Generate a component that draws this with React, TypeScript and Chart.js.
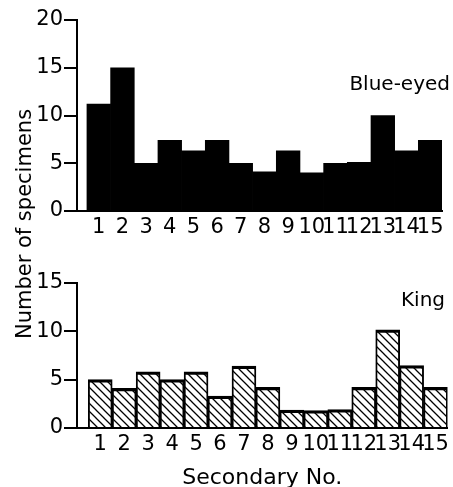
import React, { useEffect, useRef } from 'react';
import { Chart, registerables } from 'chart.js';

Chart.register(...registerables);

// ---- data ----
const secondaryNos = [1, 2, 3, 4, 5, 6, 7, 8, 9, 10, 11, 12, 13, 14, 15];
const tickLabels = ['1', '2', '3', '4', '5', '6', '7', '8', '9', '10', '11', '12', '13', '14', '15'];
const blueEyed = [11.2, 15, 5, 7.4, 6.3, 7.4, 5, 4.1, 6.3, 4, 5, 5.1, 10, 6.3, 7.4];
const king = [5, 4.1, 5.8, 5, 5.8, 3.3, 6.4, 4.2, 1.85, 1.8, 1.9, 4.2, 10.15, 6.45, 4.2];
const topMax = 20;
const bottomMax = 15;
const tickStep = 5;

const FONT = "'DejaVu Sans', sans-serif";
const W = 453;
const TOP_H = 242;
const BOTTOM_H = 245;

function makeHatch(): CanvasPattern | string {
  const s = 8;
  const c = document.createElement('canvas');
  c.width = s;
  c.height = s;
  const g = c.getContext('2d');
  if (!g) return '#fff';
  g.strokeStyle = '#000';
  g.lineWidth = 1.3;
  g.beginPath();
  for (const o of [-s, 0, s]) {
    g.moveTo(o - 1, -1);
    g.lineTo(o + s + 1, s + 1);
  }
  g.stroke();
  return g.createPattern(c, 'repeat') || '#fff';
}

const panelLabel = {
  id: 'panelLabel',
  afterDraw(chart: any, _args: any, opts: any) {
    if (!opts || !opts.text) return;
    const ctx = chart.ctx;
    ctx.save();
    ctx.fillStyle = '#000';
    ctx.font = `20px ${FONT}`;
    ctx.textAlign = 'right';
    ctx.textBaseline = 'alphabetic';
    ctx.fillText(opts.text, opts.x, opts.y);
    ctx.restore();
  },
};

function buildConfig(opts: {
  values: number[];
  max: number;
  xmin: number;
  padTop: number;
  padRight: number;
  xHeight: number;
  fill: any;
  border: any;
  label: { text: string; x: number; y: number };
  xTitle?: string;
}): any {
  return {
    type: 'bar',
    data: {
      datasets: [
        {
          data: secondaryNos.map((x, i) => ({ x, y: opts.values[i] })),
          backgroundColor: opts.fill,
          borderColor: '#000',
          borderWidth: opts.border,
          barPercentage: 1,
          categoryPercentage: 1,
        },
      ],
    },
    options: {
      responsive: false,
      animation: false,
      devicePixelRatio: 1,
      layout: { padding: { top: opts.padTop, right: opts.padRight, bottom: 0, left: 0 } },
      plugins: {
        legend: { display: false },
        tooltip: { enabled: false },
        panelLabel: opts.label,
      },
      scales: {
        x: {
          type: 'linear',
          offset: false,
          min: opts.xmin,
          max: 15.5,
          afterBuildTicks: (s: any) => {
            s.ticks = secondaryNos.map((v) => ({ value: v }));
          },
          afterFit: (s: any) => {
            s.height = opts.xHeight;
          },
          ticks: {
            autoSkip: false,
            maxRotation: 0,
            minRotation: 0,
            padding: 4,
            color: '#000',
            font: { family: FONT, size: 21 },
            callback: (_v: any, i: number) => tickLabels[i],
          },
          grid: { display: false, drawTicks: false, offset: false },
          border: { display: true, color: '#000', width: 2 },
          title: opts.xTitle
            ? {
                display: true,
                text: opts.xTitle,
                color: '#000',
                font: { family: FONT, size: 22 },
                padding: { top: 0, bottom: -4 },
              }
            : { display: false },
        },
        y: {
          min: 0,
          max: opts.max,
          afterFit: (s: any) => {
            s.width = 77;
          },
          ticks: {
            stepSize: tickStep,
            padding: 1,
            color: '#000',
            font: { family: FONT, size: 21 },
          },
          grid: {
            display: true,
            drawOnChartArea: false,
            drawTicks: true,
            tickLength: 13,
            color: '#000',
            lineWidth: 2,
          },
          border: { display: true, color: '#000', width: 2 },
        },
      },
    },
    plugins: [panelLabel],
  };
}

export default function App() {
  const topRef = useRef<HTMLCanvasElement>(null);
  const botRef = useRef<HTMLCanvasElement>(null);

  useEffect(() => {
    const charts: Chart[] = [];
    if (topRef.current) {
      charts.push(
        new Chart(
          topRef.current,
          buildConfig({
            values: blueEyed,
            max: topMax,
            xmin: 0.08,
            padTop: 20,
            padRight: 11,
            xHeight: TOP_H - 211,
            fill: '#000',
            border: 0,
            label: { text: 'Blue-eyed', x: 450, y: 90 },
          })
        )
      );
    }
    if (botRef.current) {
      charts.push(
        new Chart(
          botRef.current,
          buildConfig({
            values: king,
            max: bottomMax,
            xmin: 0.03,
            padTop: 283 - TOP_H,
            padRight: 1,
            xHeight: BOTTOM_H - (428 - TOP_H),
            fill: makeHatch(),
            border: { top: 2.5, left: 1.25, right: 1.25, bottom: 0 },
            label: { text: 'King', x: 445, y: 306 - TOP_H },
            xTitle: 'Secondary No.',
          })
        )
      );
    }
    return () => charts.forEach((c) => c.destroy());
  }, []);

  return (
    <div
      style={{
        position: 'absolute',
        left: 0,
        top: 0,
        width: W,
        height: TOP_H + BOTTOM_H,
        background: '#fff',
        overflow: 'hidden',
      }}
    >
      <canvas ref={topRef} width={W} height={TOP_H} style={{ position: 'absolute', left: 0, top: 0 }} />
      <canvas ref={botRef} width={W} height={BOTTOM_H} style={{ position: 'absolute', left: 0, top: TOP_H }} />
      <div
        style={{
          position: 'absolute',
          left: 24.4 - 150,
          top: 223.5 - 14,
          width: 300,
          height: 28,
          lineHeight: '28px',
          textAlign: 'center',
          fontFamily: FONT,
          fontSize: 21,
          color: '#000',
          whiteSpace: 'nowrap',
          transform: 'rotate(-90deg)',
        }}
      >
        Number of specimens
      </div>
    </div>
  );
}
